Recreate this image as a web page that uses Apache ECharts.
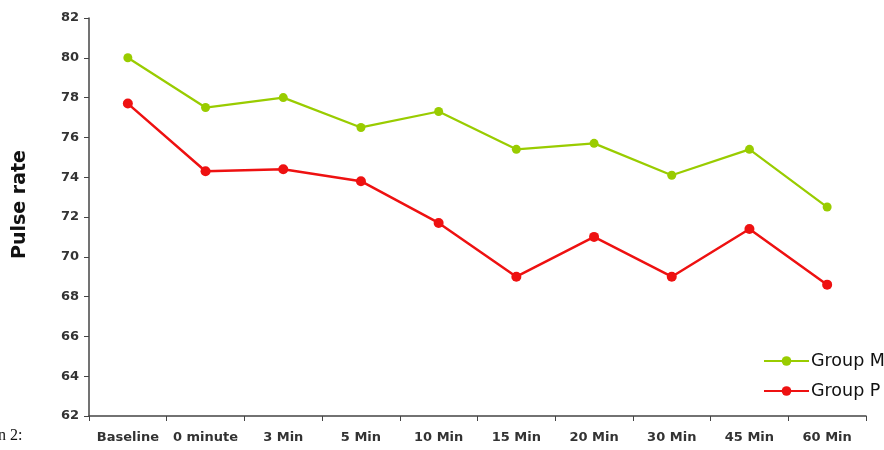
<!DOCTYPE html>
<html>
<head>
<meta charset="utf-8">
<script src="https://cdn.jsdelivr.net/npm/echarts@6/dist/echarts.min.js"></script>
<style>html,body{margin:0;padding:0;background:#fff}#c{width:884px;height:450px}</style>
</head>
<body>
<div id="c"></div>
<script>
const categories = ['Baseline', '0 minute', '3 Min', '5 Min', '10 Min', '15 Min', '20 Min', '30 Min', '45 Min', '60 Min'];
const groupM = [80.0, 77.5, 78.0, 76.5, 77.3, 75.4, 75.7, 74.1, 75.4, 72.5];
const groupP = [77.7, 74.3, 74.4, 73.8, 71.7, 69.0, 71.0, 69.0, 71.4, 68.6];
const yTicks = { min: 62, max: 82, interval: 2 };

const chart = echarts.init(document.getElementById('c'));
const font = '"DejaVu Sans", Verdana, sans-serif';
chart.setOption({
  animation: false,
  backgroundColor: '#fff',
  grid: { left: 89, right: 18, top: 18, bottom: 34, containLabel: false },
  legend: {
    orient: 'vertical',
    left: 758, top: 346,
    itemWidth: 45, itemHeight: 12, itemGap: 10,
    textStyle: { fontFamily: font, fontSize: 17.5, lineHeight: 20, color: '#111', padding: [0, 0, 0, -3] },
    data: ['Group M', 'Group P']
  },
  graphic: [
    { type: 'text', rotation: Math.PI / 2, x: 11, y: 259,
      style: { text: 'Pulse rate', font: 'bold 19px ' + font, fill: '#111' } },
    { type: 'text', x: -2, y: 428,
      style: { text: 'n 2:', font: '16px "Liberation Serif", serif', fill: '#111' } }
  ],
  xAxis: {
    type: 'category',
    data: categories,
    boundaryGap: true,
    axisLine: { lineStyle: { color: '#444', width: 1.5 } },
    axisTick: { show: true, length: 5, lineStyle: { color: '#444' } },
    axisLabel: { fontFamily: font, fontWeight: 'bold', fontSize: 13, color: '#333', margin: 15, interval: 0 }
  },
  yAxis: {
    type: 'value',
    min: yTicks.min, max: yTicks.max, interval: yTicks.interval,
    splitLine: { show: false },
    axisLine: { show: true, lineStyle: { color: '#444', width: 1.5 } },
    axisTick: { show: true, length: 5, lineStyle: { color: '#444' } },
    axisLabel: { fontFamily: font, fontWeight: 'bold', fontSize: 13, color: '#333', margin: 10 }
  },
  series: [
    { name: 'Group M', type: 'line', data: groupM, color: '#99cc00',
      symbol: 'circle', symbolSize: 9, lineStyle: { width: 2.2 } },
    { name: 'Group P', type: 'line', data: groupP, color: '#ee1111',
      symbol: 'circle', symbolSize: 10, lineStyle: { width: 2.5 } }
  ]
});
</script>
</body>
</html>
